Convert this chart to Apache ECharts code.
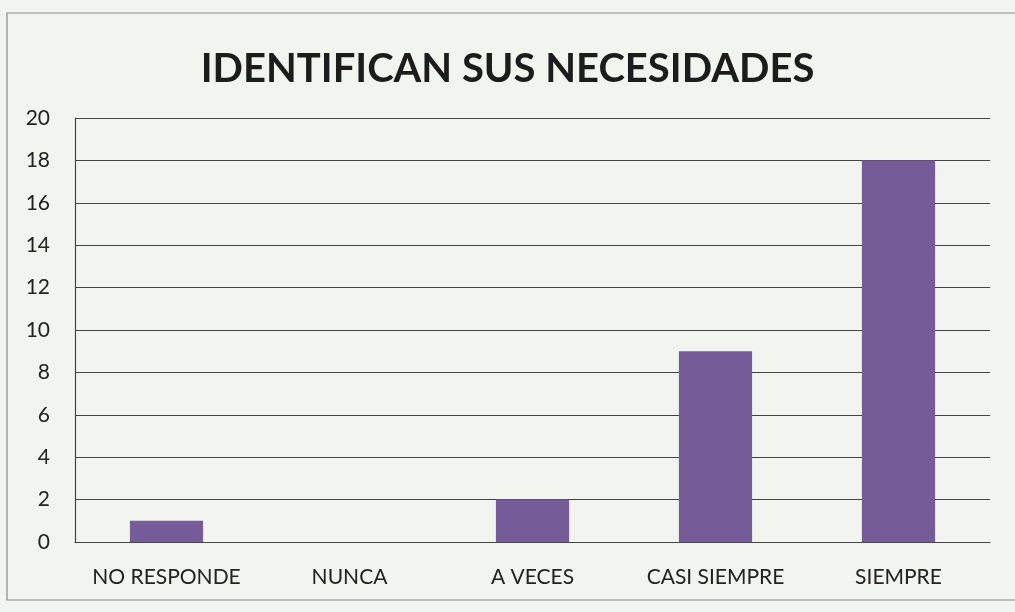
<!DOCTYPE html>
<html>
<head>
<meta charset="utf-8">
<script src="https://cdn.jsdelivr.net/npm/echarts@6/dist/echarts.min.js"></script>
<style>
  html, body { margin: 0; padding: 0; background: #f2f4ef; }
  #chart { width: 1015px; height: 612px; }
</style>
</head>
<body>
<div id="chart"></div>
<script>
// Survey answers and how many respondents chose each
const categories = ['NO RESPONDE', 'NUNCA', 'A VECES', 'CASI SIEMPRE', 'SIEMPRE'];
const counts = [1, 0, 2, 9, 18];
const yMin = 0;
const yMax = 20;
const yStep = 2;

const chart = echarts.init(document.getElementById('chart'));
chart.setOption({
  backgroundColor: '#f2f4ef',
  animation: false,
  title: {
    text: 'IDENTIFICAN SUS NECESIDADES',
    left: 'center',
    top: 44,
    textStyle: {
      fontFamily: 'Lato',
      fontWeight: 'bold',
      fontSize: 40,
      color: '#1c1c1c'
    }
  },
  graphic: [{
    type: 'rect',
    shape: { x: 7, y: 13, width: 1030, height: 587 },
    style: { fill: 'none', stroke: '#8a8a8a', lineWidth: 1.2 },
    silent: true
  }],
  grid: { left: 75, right: 25, top: 118, bottom: 70 },
  xAxis: {
    type: 'category',
    data: categories,
    axisLine: { show: true, lineStyle: { color: '#444', width: 1.2 } },
    axisTick: { show: false },
    axisLabel: {
      interval: 0,
      margin: 25,
      fontFamily: 'Lato',
      fontSize: 21,
      color: '#222'
    }
  },
  yAxis: {
    type: 'value',
    min: yMin,
    max: yMax,
    interval: yStep,
    axisLine: { show: true, lineStyle: { color: '#444', width: 1.2 } },
    axisTick: { show: false },
    splitLine: { show: true, lineStyle: { color: '#444', width: 1.2 } },
    axisLabel: {
      margin: 25,
      fontFamily: 'Lato',
      fontSize: 21,
      color: '#222'
    }
  },
  series: [{
    type: 'bar',
    data: counts,
    barWidth: '40%',
    itemStyle: { color: '#765b99' }
  }]
});
</script>
</body>
</html>
